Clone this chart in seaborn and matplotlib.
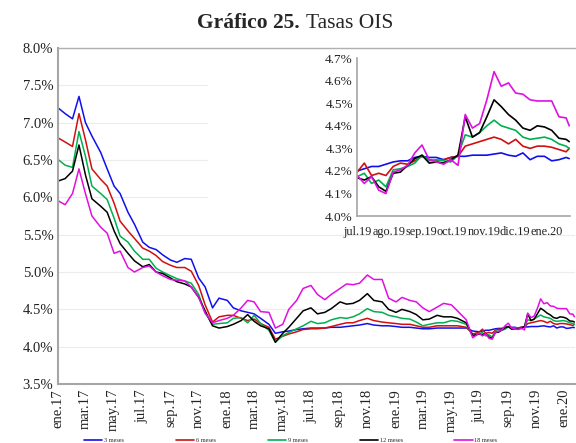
import pandas as pd
import matplotlib
matplotlib.use("Agg")
import matplotlib.pyplot as plt
from matplotlib.ticker import FuncFormatter
from matplotlib.patches import Rectangle
from matplotlib.lines import Line2D
import seaborn as sns

# fechas: quincenal ene.17 - jun.19, semanal jul.19 - ene.20
fechas_q = ["2017-01-02", "2017-01-16", "2017-02-01", "2017-02-15", "2017-03-01", "2017-03-15",
            "2017-04-03", "2017-04-17", "2017-05-02", "2017-05-15", "2017-06-01", "2017-06-15",
            "2017-07-03", "2017-07-17", "2017-08-01", "2017-08-15", "2017-09-01", "2017-09-15",
            "2017-10-02", "2017-10-16", "2017-11-01", "2017-11-15", "2017-12-01", "2017-12-15",
            "2018-01-02", "2018-01-15", "2018-02-01", "2018-02-15", "2018-03-01", "2018-03-15",
            "2018-04-02", "2018-04-16", "2018-05-02", "2018-05-15", "2018-06-01", "2018-06-15",
            "2018-07-02", "2018-07-16", "2018-08-01", "2018-08-15", "2018-09-03", "2018-09-17",
            "2018-10-01", "2018-10-15", "2018-11-01", "2018-11-15", "2018-12-03", "2018-12-17",
            "2019-01-02", "2019-01-15", "2019-02-01", "2019-02-15", "2019-03-01", "2019-03-15",
            "2019-04-01", "2019-04-15", "2019-05-02", "2019-05-15", "2019-06-03", "2019-06-17"]
fechas_s = ["2019-07-01", "2019-07-08", "2019-07-15", "2019-07-22", "2019-07-29", "2019-08-05",
            "2019-08-12", "2019-08-19", "2019-08-26", "2019-09-02", "2019-09-09", "2019-09-16",
            "2019-09-23", "2019-09-30", "2019-10-07", "2019-10-14", "2019-10-21", "2019-10-28",
            "2019-11-04", "2019-11-11", "2019-11-18", "2019-11-25", "2019-12-02", "2019-12-09",
            "2019-12-16", "2019-12-23", "2019-12-30", "2020-01-06", "2020-01-13", "2020-01-20",
            "2020-01-23"]

m3 = [7.19, 7.12, 7.05, 7.35, 7.00, 6.82, 6.60, 6.38, 6.15, 6.05, 5.80, 5.64,
      5.40, 5.33, 5.30, 5.23, 5.16, 5.13, 5.18, 5.17, 4.92, 4.80, 4.52, 4.65,
      4.62, 4.52, 4.48, 4.46, 4.44, 4.38, 4.30, 4.18, 4.20, 4.21, 4.23, 4.24,
      4.25, 4.25, 4.25, 4.26, 4.26, 4.27, 4.28, 4.29, 4.31, 4.29, 4.28, 4.28,
      4.27, 4.26, 4.26, 4.25, 4.24, 4.24, 4.25, 4.25, 4.25, 4.25, 4.25, 4.21,
      4.20, 4.21, 4.22, 4.22, 4.23, 4.24, 4.245, 4.245, 4.26, 4.265, 4.26, 4.26,
      4.25, 4.26, 4.265, 4.265, 4.27, 4.27, 4.27, 4.275, 4.28, 4.27, 4.265, 4.28,
      4.25, 4.265, 4.265, 4.245, 4.25, 4.26, 4.255]
m6 = [6.79, 6.74, 6.68, 7.12, 6.77, 6.38, 6.24, 6.15, 5.92, 5.68, 5.55, 5.45,
      5.32, 5.28, 5.22, 5.14, 5.09, 5.06, 5.06, 5.01, 4.82, 4.56, 4.33, 4.40,
      4.42, 4.42, 4.38, 4.35, 4.37, 4.31, 4.26, 4.10, 4.14, 4.17, 4.20, 4.23,
      4.24, 4.24, 4.25, 4.27, 4.30, 4.32, 4.32, 4.35, 4.38, 4.35, 4.33, 4.32,
      4.31, 4.30, 4.30, 4.28, 4.26, 4.26, 4.28, 4.28, 4.28, 4.28, 4.26, 4.17,
      4.195, 4.235, 4.18, 4.19, 4.18, 4.22, 4.235, 4.23, 4.245, 4.265, 4.25, 4.245,
      4.25, 4.26, 4.265, 4.31, 4.32, 4.33, 4.34, 4.35, 4.34, 4.32, 4.34, 4.31,
      4.30, 4.31, 4.31, 4.305, 4.295, 4.285, 4.30]
m9 = [6.50, 6.43, 6.40, 6.88, 6.55, 6.15, 6.05, 5.97, 5.72, 5.48, 5.40, 5.28,
      5.17, 5.17, 5.05, 5.00, 4.95, 4.91, 4.88, 4.85, 4.70, 4.45, 4.30, 4.31,
      4.32, 4.38, 4.39, 4.32, 4.42, 4.31, 4.22, 4.06, 4.15, 4.19, 4.24, 4.28,
      4.34, 4.31, 4.32, 4.36, 4.39, 4.38, 4.40, 4.44, 4.51, 4.47, 4.46, 4.42,
      4.40, 4.38, 4.37, 4.33, 4.28, 4.30, 4.32, 4.32, 4.35, 4.34, 4.30, 4.14,
      4.175, 4.19, 4.145, 4.16, 4.13, 4.205, 4.21, 4.22, 4.235, 4.27, 4.245, 4.25,
      4.245, 4.24, 4.27, 4.36, 4.35, 4.37, 4.40, 4.425, 4.40, 4.39, 4.38, 4.35,
      4.34, 4.345, 4.35, 4.34, 4.32, 4.31, 4.30]
m12 = [6.22, 6.25, 6.35, 6.70, 6.30, 5.98, 5.88, 5.80, 5.55, 5.38, 5.25, 5.15,
       5.07, 5.10, 5.00, 4.98, 4.92, 4.87, 4.84, 4.80, 4.66, 4.48, 4.28, 4.25,
       4.27, 4.30, 4.35, 4.43, 4.34, 4.28, 4.24, 4.06, 4.18, 4.26, 4.38, 4.48,
       4.52, 4.44, 4.46, 4.51, 4.60, 4.57, 4.58, 4.62, 4.71, 4.62, 4.60, 4.50,
       4.46, 4.50, 4.47, 4.43, 4.36, 4.37, 4.42, 4.40, 4.40, 4.38, 4.32, 4.15,
       4.17, 4.16, 4.175, 4.13, 4.11, 4.19, 4.195, 4.225, 4.255, 4.27, 4.235, 4.24,
       4.235, 4.25, 4.27, 4.44, 4.35, 4.37, 4.44, 4.515, 4.485, 4.45, 4.425, 4.39,
       4.38, 4.40, 4.395, 4.38, 4.345, 4.34, 4.33]
m18 = [5.95, 5.90, 6.05, 6.38, 6.05, 5.75, 5.60, 5.52, 5.25, 5.28, 5.06, 5.00,
       5.06, 5.08, 5.00, 4.95, 4.90, 4.89, 4.88, 4.80, 4.66, 4.45, 4.32, 4.35,
       4.38, 4.42, 4.52, 4.62, 4.60, 4.47, 4.46, 4.25, 4.30, 4.50, 4.62, 4.78,
       4.82, 4.70, 4.63, 4.70, 4.78, 4.84, 4.83, 4.85, 4.96, 4.90, 4.90, 4.65,
       4.60, 4.66, 4.62, 4.60, 4.52, 4.47, 4.53, 4.58, 4.56, 4.48, 4.36, 4.12,
       4.18, 4.145, 4.175, 4.115, 4.10, 4.195, 4.205, 4.225, 4.28, 4.315, 4.25, 4.24,
       4.23, 4.25, 4.225, 4.45, 4.39, 4.41, 4.515, 4.64, 4.575, 4.59, 4.545, 4.54,
       4.515, 4.51, 4.51, 4.51, 4.44, 4.435, 4.40]

plazos = ["3 meses", "6 meses", "9 meses", "12 meses", "18 meses"]
colores = ["#1010ee", "#d01010", "#00b050", "#000000", "#e010e0"]

xlabels_main = ["ene.17", "mar.17", "may.17", "jul.17", "sep.17", "nov.17", "ene.18", "mar.18",
                "may.18", "jul.18", "sep.18", "nov.18", "ene.19", "mar.19", "may.19", "jul.19",
                "sep.19", "nov.19", "ene.20"]
xlabels_ins = ["jul.19", "ago.19", "sep.19", "oct.19", "nov.19", "dic.19", "ene.20"]

fechas = pd.to_datetime(fechas_q + fechas_s)
df = pd.concat([pd.DataFrame({"fecha": fechas, "tasa": v, "plazo": p})
                for p, v in zip(plazos, [m3, m6, m9, m12, m18])], ignore_index=True)

sns.set_style("white")
plt.rcParams["font.family"] = ["Liberation Serif", "DejaVu Serif"]

fig = plt.figure(figsize=(5.76, 4.43), dpi=100)
ax = fig.add_axes([0.101, 0.133, 0.897, 0.759])
sns.lineplot(data=df, x="fecha", y="tasa", hue="plazo", palette=colores,
             linewidth=1.1, legend=False, ax=ax)

ax.set_ylim(3.5, 8.0)
ax.set_yticks([3.5, 4.0, 4.5, 5.0, 5.5, 6.0, 6.5, 7.0, 7.5, 8.0])
ax.yaxis.set_major_formatter(FuncFormatter(lambda v, p: f"{v:.1f}%"))
ax.set_xlim(pd.Timestamp("2017-01-01"), pd.Timestamp("2020-01-24"))
ax.set_xticks(pd.date_range("2017-01-01", "2020-01-01", freq="2MS"))
ax.set_xticklabels(xlabels_main, rotation=90)
ax.set_xlabel("")
ax.set_ylabel("")
ax.tick_params(axis="both", labelsize=10.5, direction="in", length=3, color="#a0a0a0",
               colors="#222222")
ax.grid(axis="y", color="#ececec", linewidth=0.8)
ax.spines["right"].set_visible(False)
for s in ["left", "bottom"]:
    ax.spines[s].set_color("#a6a6a6")
    ax.spines[s].set_linewidth(1.5)
ax.spines["top"].set_color("#b0b0b0")
ax.spines["top"].set_linewidth(1.0)

# fondo blanco detras del recuadro
ax.add_patch(Rectangle((0.29, 0.46), 0.72, 0.535, transform=ax.transAxes,
                       facecolor="white", edgecolor="none", zorder=5))

# recuadro jul.19 - ene.20
axi = fig.add_axes([0.620, 0.512, 0.370, 0.357])
sns.lineplot(data=df, x="fecha", y="tasa", hue="plazo", palette=colores,
             linewidth=1.2, legend=False, ax=axi)
axi.set_xlim(pd.Timestamp("2019-07-01"), pd.Timestamp("2020-01-24"))
axi.set_ylim(4.0, 4.7)
axi.set_yticks([4.0, 4.1, 4.2, 4.3, 4.4, 4.5, 4.6, 4.7])
axi.yaxis.set_major_formatter(FuncFormatter(lambda v, p: f"{v:.1f}%"))
axi.set_xticks(pd.date_range("2019-07-01", "2020-01-01", freq="MS"))
axi.set_xticklabels(xlabels_ins)
axi.set_xlabel("")
axi.set_ylabel("")
axi.tick_params(axis="both", direction="in", length=3, color="#a0a0a0", colors="#222222")
axi.tick_params(axis="x", pad=7, labelsize=8.8)
axi.tick_params(axis="y", pad=3, labelsize=9.5)
for s in ["top", "right"]:
    axi.spines[s].set_visible(False)
for s in ["left", "bottom"]:
    axi.spines[s].set_color("#a6a6a6")
    axi.spines[s].set_linewidth(1.2)

fig.text(0.521, 0.937, "Gráfico 25.", ha="right", va="baseline", fontsize=15.5,
         fontweight="bold")
fig.text(0.531, 0.937, "Tasas OIS", ha="left", va="baseline", fontsize=15.5)

handles = [Line2D([0], [0], color=c, linewidth=1.2) for c in colores]
fig.legend(handles, plazos, loc="lower center", bbox_to_anchor=(0.505, -0.012), ncol=5,
           fontsize=4.5, frameon=False, handlelength=2.9, handletextpad=0.3,
           columnspacing=8.3)

fig.savefig("out.png", dpi=100)
